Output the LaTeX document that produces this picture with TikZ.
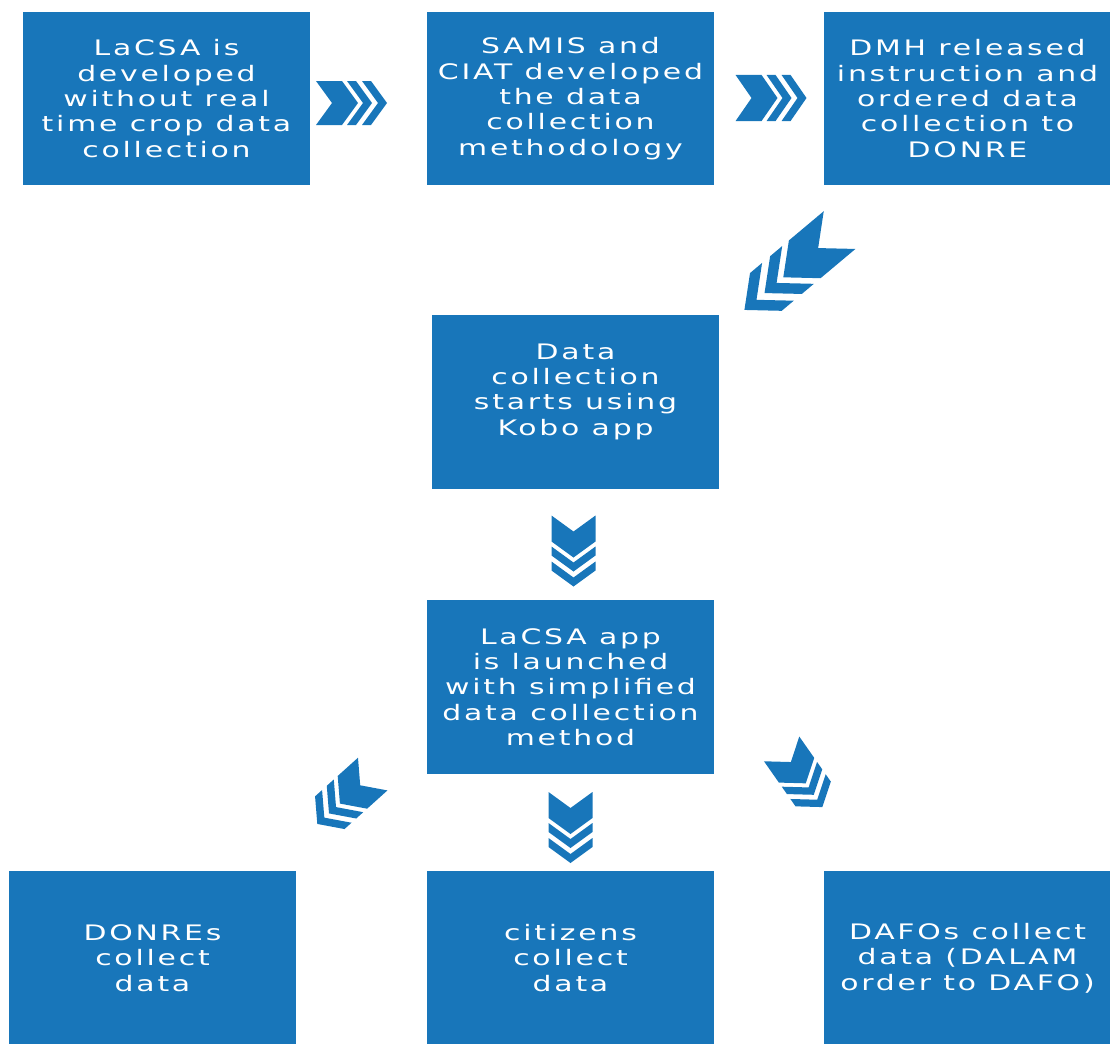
\documentclass[tikz,border=0pt]{standalone}
\usepackage{fontspec}
\newfontfamily\boxfont{DejaVu Sans}[FakeStretch=1.4, LetterSpace=13]
\definecolor{stageblue}{RGB}{24,118,186}

\begin{document}
\begin{tikzpicture}[
    x=0.75pt, y=-0.75pt,
    every node/.style={font=\boxfont\fontsize{16}{19}\selectfont},
    stage/.style ={fill=stageblue, text=white, align=center, inner sep=0pt,
                   minimum width=215pt, minimum height=130pt},
    chevron/.style={fill=stageblue},
    chev/.pic={
        \foreach \xa/\tw in {0/26,31/9,46/9}
            \fill[chevron] (\xa-35.5,22) -- ++(\tw,0) -- ++(16,-22) -- ++(-16,-22)
                           -- ++(-\tw,0) -- ++(16,22) -- cycle;
    },
]
\useasboundingbox (0,0) rectangle (1110,1043);
% top row
\node[stage] (lacsa)  at (166.5,98.5) {LaCSA is\\developed\\without real\\time crop data\\collection};
\node[stage] (method) at (570.5,98.5) {SAMIS and\\CIAT developed\\the data\\collection\\methodology};
\node[stage] (order)  at (967.5,98.5) {DMH released\\instruction and\\ordered data\\collection to\\DONRE};
% middle column
\node[stage] (kobo)   at (575.5,402)  {Data\\collection\\starts using\\Kobo app\\\mbox{}};
\node[stage] (launch) at (570.5,687)  {LaCSA app\\is launched\\with simplified\\data collection\\method};
% bottom row
\node[stage] (donre)   at (152.5,958) {DONREs\\collect\\data};
\node[stage] (citizen) at (570.5,958) {citizens\\collect\\data};
\node[stage] (dafo)    at (967.5,958) {DAFOs collect\\data (DALAM\\order to DAFO)};
% chevrons between the stages
\pic at (351.5,103) {chev};
\pic[yscale=1.05] at (771,98) {chev};
\pic[rotate=220, xscale=1.75, yscale=1.12] at (792,270) {chev};
\pic[rotate=-90] at (573.5,551) {chev};
\pic[rotate=222, xscale=1.05, yscale=1.0] at (345,799) {chev};
\pic[rotate=-90] at (570.5,827.5) {chev};
\pic[rotate=-55, xscale=1.0, yscale=.98] at (802,778) {chev};
\end{tikzpicture}
\end{document}
